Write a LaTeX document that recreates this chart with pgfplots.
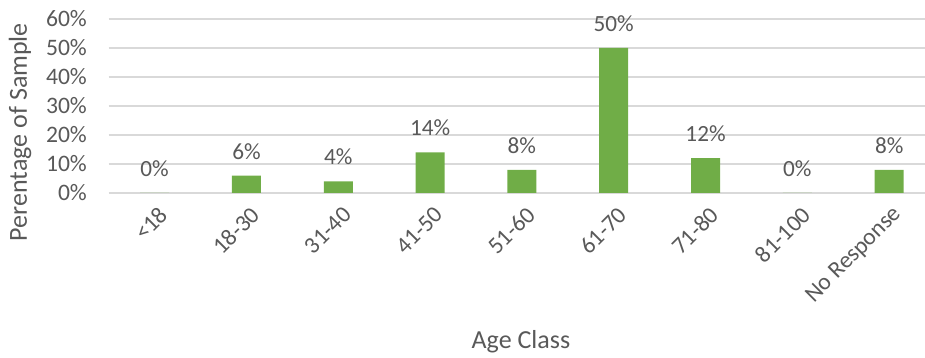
\documentclass[border=0pt]{standalone}
\usepackage{fontspec}
\setmainfont{Carlito}
\usepackage{pgfplots}
\pgfplotsset{compat=1.18}
\pgfkeys{/pgf/number format/assume math mode=true}
\definecolor{bargreen}{HTML}{70AD47}
\definecolor{gridgray}{HTML}{D9D9D9}
\definecolor{textgray}{HTML}{595959}

\begin{document}
\begin{tikzpicture}
\useasboundingbox (-54.35pt,-82.5pt) rectangle (408.15pt,96.5pt);
\begin{axis}[
  at={(0,0)}, anchor=south west,
  scale only axis, width=408.15pt, height=87pt,
  xmin=-0.5, xmax=8.39, ymin=0, ymax=60,
  /pgf/number format/assume math mode=true,
  ytick={0,10,...,60},
  yticklabel={\pgfmathprintnumber{\tick}\%},
  ymajorgrids,
  major grid style={gridgray, line width=0.75pt},
  axis line style={draw=none},
  major tick length=0pt,
  xtick={0,...,8},
  xticklabels={<18,18-30,31-40,41-50,51-60,61-70,71-80,81-100,No Response},
  tick label style={text=textgray, font=\fontsize{11.8}{14}\selectfont},
  yticklabel style={xshift=-7.4pt},
  xticklabel style={xshift=7pt, yshift=-6.5pt, rotate=45, anchor=east},
  xlabel={Age Class},
  ylabel={Perentage of Sample},
  label style={text=textgray, font=\fontsize{13}{15}\selectfont},
  xlabel style={at={(axis description cs:0.505,-0.895)}, anchor=base},
  ylabel style={at={(axis description cs:-0.1087,0.35)}, anchor=center},
  nodes near coords={\pgfmathprintnumber{\pgfplotspointmeta}\%},
  every node near coord/.append style={text=textgray, font=\fontsize{11.6}{14}\selectfont, yshift=4.6pt},
]
\addplot[ybar, bar width=14.5pt, fill=bargreen, draw=none]
  coordinates {(0,0) (1,6) (2,4) (3,14) (4,8) (5,50) (6,12) (7,0) (8,8)};
\end{axis}
\end{tikzpicture}
\end{document}
